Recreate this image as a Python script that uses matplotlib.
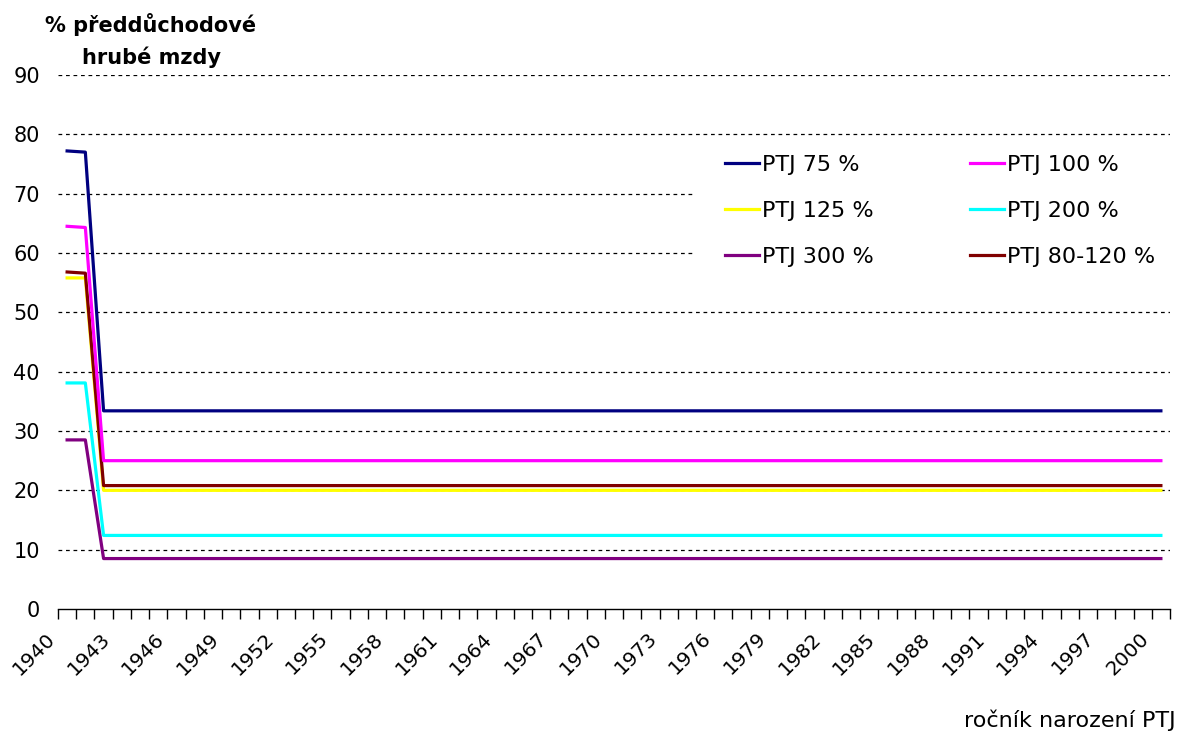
import matplotlib
matplotlib.use("Agg")
import matplotlib.pyplot as plt
from matplotlib.ticker import FixedLocator, NullFormatter
import matplotlib.transforms as mtransforms
from matplotlib.patches import Rectangle

plt.rcParams['font.family'] = ['DejaVu Sans']

years = list(range(1940, 2001))
ptj75 = [77.2, 77.0] + [33.4] * 59
ptj100 = [64.5, 64.3] + [25.0] * 59
ptj125 = [55.8, 55.8] + [20.0] * 59
ptj200 = [38.1, 38.1] + [12.4] * 59
ptj300 = [28.5, 28.5] + [8.5] * 59
ptj80_120 = [56.8, 56.6] + [20.8] * 59

series = [
    ("PTJ 75 %", ptj75, "#000080"),
    ("PTJ 100 %", ptj100, "#FF00FF"),
    ("PTJ 125 %", ptj125, "#FFFF00"),
    ("PTJ 200 %", ptj200, "#00FFFF"),
    ("PTJ 300 %", ptj300, "#800080"),
    ("PTJ 80-120 %", ptj80_120, "#800000"),
]
draw_order = [4, 3, 2, 5, 1, 0]

W, H = 1179, 733
fig = plt.figure(figsize=(W / 100, H / 100), dpi=100)
left, right, bottom, top = 58, 1170, 609, 75
ax = fig.add_axes([left / W, 1 - bottom / H, (right - left) / W, (bottom - top) / H])

lines = {}
for i in draw_order:
    label, vals, color = series[i]
    ln, = ax.plot(years, vals, color=color, lw=2.3, label=label, zorder=3)
    lines[i] = ln

ax.set_xlim(years[0] - 0.5, years[-1] + 0.5)
ax.set_ylim(0, 90)

for s in ['top', 'right', 'left']:
    ax.spines[s].set_visible(False)
ax.spines['bottom'].set_linewidth(1.0)
ax.spines['bottom'].set_color('black')

# y axis
ax.set_yticks(range(0, 91, 10))
ax.tick_params(axis='y', length=0, pad=13, labelsize=15)
for yv in range(10, 91, 10):
    ax.axhline(yv, color='black', lw=0.9, ls=(0, (3, 3)), zorder=1)

# x axis: ticks at category boundaries, labels every 3 years at centers
ax.xaxis.set_major_locator(FixedLocator([y - 0.5 for y in years] + [years[-1] + 0.5]))
ax.xaxis.set_major_formatter(NullFormatter())
ax.tick_params(axis='x', which='major', direction='out', length=7, width=1.0, color='black')
label_years = years[::3]
ax.xaxis.set_minor_locator(FixedLocator(label_years))
ax.set_xticklabels([str(y) for y in label_years], minor=True)
ax.tick_params(axis='x', which='minor', length=0, pad=19, labelsize=14.5)
offset = mtransforms.ScaledTranslation(-15 / 100, 0, fig.dpi_scale_trans)
for t in ax.xaxis.get_minorticklabels():
    t.set_rotation(45)
    t.set_ha('right')
    t.set_va('center')
    t.set_rotation_mode('anchor')
    t.set_transform(t.get_transform() + offset)

# white legend area covering gridlines
ax.add_patch(Rectangle((693 / W, 1 - 283 / H), (W - 693) / W, (283 - 142) / H,
                       transform=fig.transFigure, facecolor='white', edgecolor='none',
                       zorder=2, clip_on=False))

leg_kw = dict(loc='upper left', frameon=False, fontsize=16, handlelength=1.55,
              handletextpad=0.12, labelspacing=1.17, borderpad=0.0, borderaxespad=0,
              bbox_transform=fig.transFigure)
col1 = [lines[0], lines[2], lines[4]]
col2 = [lines[1], lines[3], lines[5]]
leg1 = ax.legend(col1, [h.get_label() for h in col1], bbox_to_anchor=(725 / W, 1 - 155 / H), **leg_kw)
ax.add_artist(leg1)
leg2 = ax.legend(col2, [h.get_label() for h in col2], bbox_to_anchor=(970 / W, 1 - 155 / H), **leg_kw)
leg1.set_zorder(5)
leg2.set_zorder(5)

fig.text(151 / W, 1 - 25 / H, "% předdůchodové", ha='center', va='center', fontsize=15, fontweight='bold')
fig.text(151 / W, 1 - 57 / H, "hrubé mzdy", ha='center', va='center', fontsize=15, fontweight='bold')
fig.text(1176 / W, 1 - 720 / H, "ročník narození PTJ", ha='right', va='center', fontsize=16)

fig.savefig("out.png", dpi=100)
